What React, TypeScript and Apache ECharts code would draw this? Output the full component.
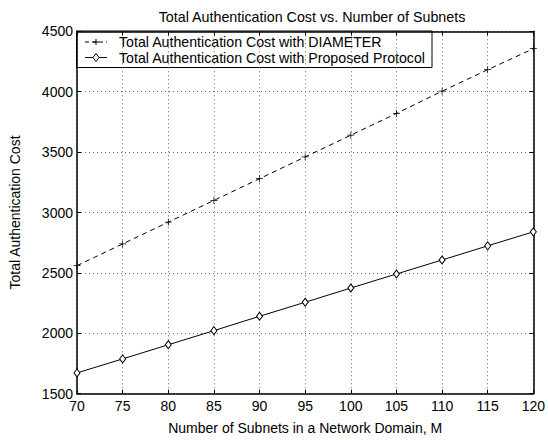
import React, { useEffect, useRef } from "react";
import * as echarts from "echarts";

const subnets = [70, 75, 80, 85, 90, 95, 100, 105, 110, 115, 120];
const diameterCost = [2560, 2740, 2920, 3100, 3280, 3460, 3640, 3820, 4004, 4182, 4356];
const proposedCost = [1672, 1788, 1905, 2022, 2141, 2257, 2375, 2491, 2607, 2724, 2840];
const seriesNames = [
  "Total Authentication Cost with DIAMETER",
  "Total Authentication Cost with Proposed Protocol",
];

const FONT = "'Liberation Sans', Arial, Helvetica, sans-serif";
const PLUS = "path://M4.5,0H5.5V4.5H10V5.5H5.5V10H4.5V5.5H0V4.5H4.5Z";

export default function App() {
  const ref = useRef<HTMLDivElement>(null);
  useEffect(() => {
    if (!ref.current) return;
    const chart = echarts.init(ref.current, null, { renderer: "svg" });
    const frame = { show: true, lineStyle: { color: "#000", width: 1.5 } };
    const tickIn = { show: true, inside: true, length: 4, lineStyle: { color: "#000" } };
    const grid = { show: true, lineStyle: { color: "#666", type: [1, 3], width: 1 } };
    const label = { color: "#000", fontSize: 14, fontFamily: FONT };
    const font = `14.2px ${FONT}`;
    const r1 = 42;
    const r2 = 57.5;
    chart.setOption({
      animation: false,
      backgroundColor: "#fff",
      textStyle: { fontFamily: FONT },
      title: {
        text: "Total Authentication Cost vs. Number of Subnets",
        left: 307,
        textAlign: "center",
        top: 5,
        textStyle: { fontSize: 14.3, fontWeight: "normal", color: "#000", fontFamily: FONT },
      },
      grid: { left: 77, right: 11, top: 31.3, bottom: 46.3 },
      graphic: [
        {
          type: "group",
          z: 100,
          children: [
            {
              type: "rect",
              shape: { x: 76.5, y: 31, width: 355.5, height: 36.5 },
              style: { fill: "#fff", stroke: "#000", lineWidth: 1 },
            },
            {
              type: "line",
              shape: { x1: 85, y1: r1, x2: 107, y2: r1 },
              style: { stroke: "#000", lineWidth: 1, lineDash: [4, 3] },
            },
            {
              type: "line",
              shape: { x1: 93, y1: r1, x2: 99, y2: r1 },
              style: { stroke: "#000", lineWidth: 1 },
            },
            {
              type: "line",
              shape: { x1: 96, y1: r1 - 3, x2: 96, y2: r1 + 3 },
              style: { stroke: "#000", lineWidth: 1 },
            },
            {
              type: "text",
              x: 119,
              y: r1,
              style: { text: seriesNames[0], font, fill: "#000", verticalAlign: "middle" },
            },
            {
              type: "line",
              shape: { x1: 85, y1: r2, x2: 107, y2: r2 },
              style: { stroke: "#000", lineWidth: 1 },
            },
            {
              type: "polygon",
              shape: { points: [[96, r2 - 4], [99, r2], [96, r2 + 4], [93, r2]] },
              style: { fill: "#fff", stroke: "#000", lineWidth: 1 },
            },
            {
              type: "text",
              x: 119,
              y: r2,
              style: { text: seriesNames[1], font, fill: "#000", verticalAlign: "middle" },
            },
          ],
        },
      ],
      xAxis: [
        {
          type: "value",
          min: 70,
          max: 120,
          interval: 5,
          name: "Number of Subnets in a Network Domain, M",
          nameLocation: "middle",
          nameGap: 27,
          nameTextStyle: { ...label },
          axisLine: frame,
          axisTick: tickIn,
          axisLabel: { ...label, margin: 5 },
          splitLine: grid,
        },
        {
          type: "value",
          position: "top",
          min: 70,
          max: 120,
          interval: 5,
          axisLine: frame,
          axisTick: tickIn,
          axisLabel: { show: false },
          splitLine: { show: false },
        },
      ],
      yAxis: [
        {
          type: "value",
          min: 1500,
          max: 4500,
          interval: 500,
          name: "Total Authentication Cost",
          nameLocation: "middle",
          nameGap: 55,
          nameTextStyle: { ...label },
          axisLine: frame,
          axisTick: tickIn,
          axisLabel: { ...label, margin: 4, formatter: (v: number) => String(v) },
          splitLine: grid,
        },
        {
          type: "value",
          position: "right",
          min: 1500,
          max: 4500,
          interval: 500,
          axisLine: frame,
          axisTick: tickIn,
          axisLabel: { show: false },
          splitLine: { show: false },
        },
      ],
      series: [
        {
          name: seriesNames[0],
          type: "line",
          data: subnets.map((x, i) => [x, diameterCost[i]]),
          symbol: PLUS,
          symbolSize: 7,
          itemStyle: { color: "#000" },
          lineStyle: { color: "#000", width: 1, type: [5, 4] },
          z: 3,
        },
        {
          name: seriesNames[1],
          type: "line",
          data: subnets.map((x, i) => [x, proposedCost[i]]),
          symbol: "diamond",
          symbolSize: [6, 8],
          itemStyle: { color: "#fff", borderColor: "#000", borderWidth: 1 },
          lineStyle: { color: "#000", width: 1 },
          z: 3,
        },
      ],
    });
    return () => chart.dispose();
  }, []);
  return <div ref={ref} style={{ width: 548, height: 440, position: "absolute", left: 0, top: 0 }} />;
}
